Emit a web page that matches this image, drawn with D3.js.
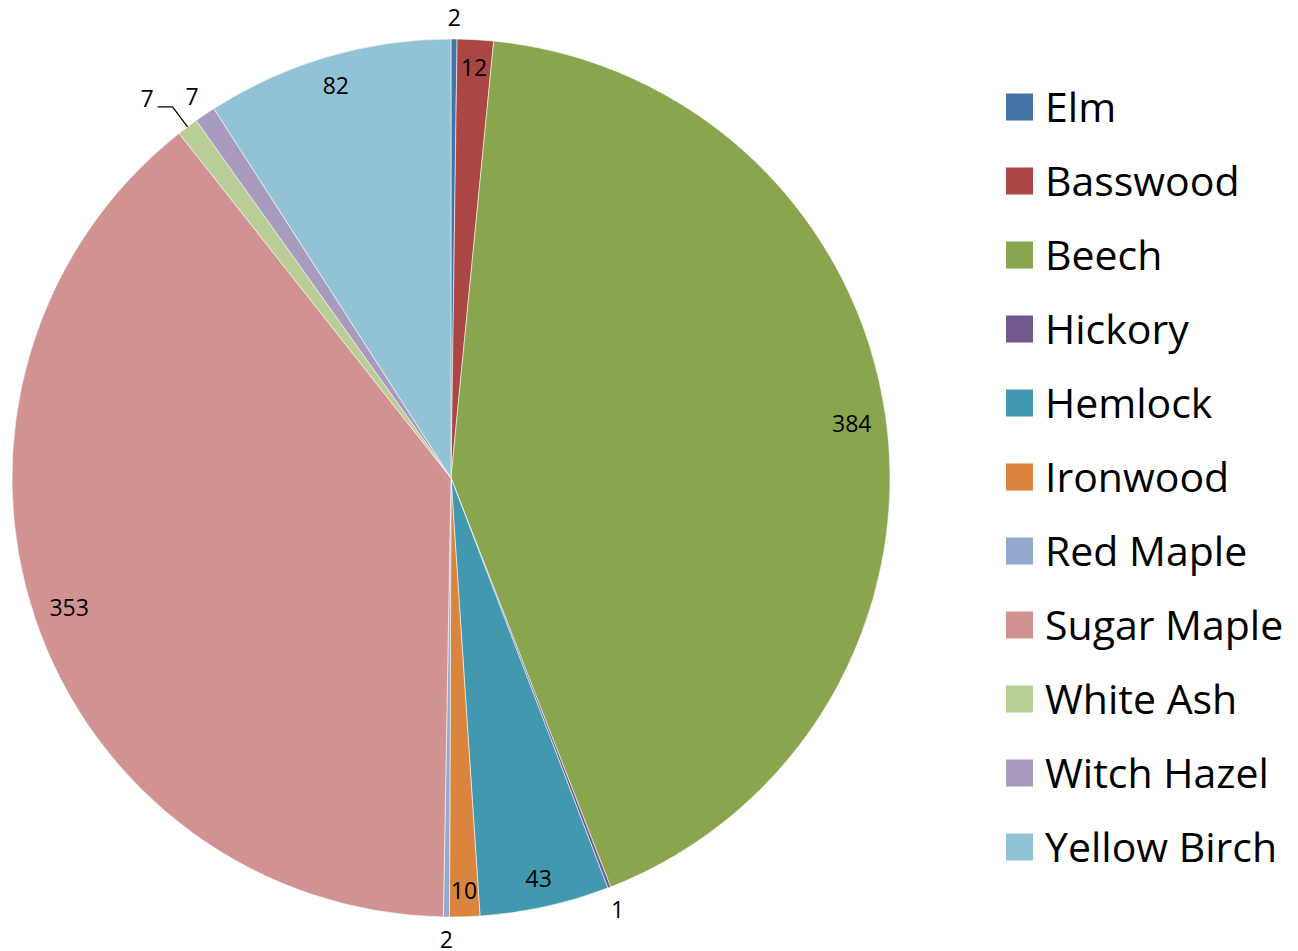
<!DOCTYPE html>
<html><head><meta charset="utf-8">
<script src="https://cdn.jsdelivr.net/npm/d3@7"></script>
<style>html,body{margin:0;padding:0;background:#fff;}svg{display:block;}</style>
</head><body>
<svg id="chart" width="1298" height="951"></svg>
<script>
const categories = ["Elm","Basswood","Beech","Hickory","Hemlock","Ironwood","Red Maple","Sugar Maple","White Ash","Witch Hazel","Yellow Birch"];
const values = [2,12,384,1,43,10,2,353,7,7,82];
const colors = ["#4572A7","#AA4643","#89A54E","#71588F","#4198AF","#DB843D","#93A9CF","#D19392","#B9CD96","#A99BBD","#92C3D4"];

const svg = d3.select("#chart");
const cx = 451, cy = 478, R = 439;
const total = d3.sum(values);
const data = categories.map((c,i)=>({name:c, value:values[i]}));
const color = d3.scaleOrdinal().domain(categories).range(colors);

const pie = d3.pie().value(d=>d.value).sort(null);
const arcs = pie(data);
const arc = d3.arc().innerRadius(0).outerRadius(R);
const g = svg.append("g").attr("transform",`translate(${cx},${cy})`);

g.selectAll("path.slice").data(arcs).enter().append("path")
  .attr("class","slice")
  .attr("d",arc)
  .attr("fill",d=>color(d.data.name))
  .attr("stroke","#ffffff").attr("stroke-width",0.8).attr("stroke-opacity",0.7);

const labelFont = "'Open Sans', sans-serif";
const FS = 23;
const mid = d=> (d.startAngle+d.endAngle)/2;
const pt = (a,r)=>[r*Math.sin(a), -r*Math.cos(a)];
const HH = 13.5;

function extent(a, w){ return (w/2)*Math.abs(Math.sin(a)) + HH*Math.abs(Math.cos(a)); }

const inside = arcs.filter(d=>d.value/total >= 0.011);
const outside = arcs.filter(d=>d.value/total < 0.011);

inside.forEach(d=>{
  const t = g.append("text")
    .attr("text-anchor","middle").attr("dominant-baseline","central")
    .attr("font-family",labelFont).attr("font-size",FS).attr("fill","#000")
    .text(d.value);
  const w = t.node().getBBox().width;
  const a = mid(d);
  const p = pt(a, R - 13 - extent(a,w));
  t.attr("x",p[0]).attr("y",p[1]);
});

const outPos = outside.map(d=>({d, leader:false}));
outPos.forEach(o=>{
  o.t = g.append("text")
    .attr("text-anchor","middle").attr("dominant-baseline","central")
    .attr("font-family",labelFont).attr("font-size",FS).attr("fill","#000")
    .text(o.d.value);
  const w = o.t.node().getBBox().width;
  const a = mid(o.d);
  const p = pt(a, R + 8 + extent(a,w));
  o.x=p[0]; o.y=p[1];
});
for(let i=0;i<outPos.length-1;i++){
  const a=outPos[i], b=outPos[i+1];
  if(Math.hypot(a.x-b.x,a.y-b.y)<40){ a.leader=true; }
}
outPos.forEach(o=>{
  if(!o.leader){
    o.t.attr("x",o.x).attr("y",o.y);
  } else {
    const m = mid(o.d);
    const p0 = pt(m,R), p1 = pt(m,R+25);
    const p2 = [p1[0]-15, p1[1]];
    g.append("polyline").attr("points",[p0,p1,p2].map(p=>p.join(",")).join(" "))
      .attr("fill","none").attr("stroke","#000").attr("stroke-width",1.3);
    o.t.attr("text-anchor","end").attr("x",p2[0]-4).attr("y",p2[1]-9);
  }
});

// legend
const ly = d3.scaleBand().domain(categories).range([70, 884]).paddingInner(0);
const rows = svg.append("g").selectAll("g").data(categories).enter().append("g")
  .attr("transform",d=>`translate(1006,${ly(d)+ly.bandwidth()/2})`);
rows.append("rect").attr("x",0).attr("y",-13.5).attr("width",27).attr("height",27)
  .attr("fill",d=>color(d));
rows.append("text").attr("x",39).attr("y",14.5)
  .attr("font-family",labelFont).attr("font-size",41).attr("fill","#000")
  .text(d=>d);
</script>
</body></html>
